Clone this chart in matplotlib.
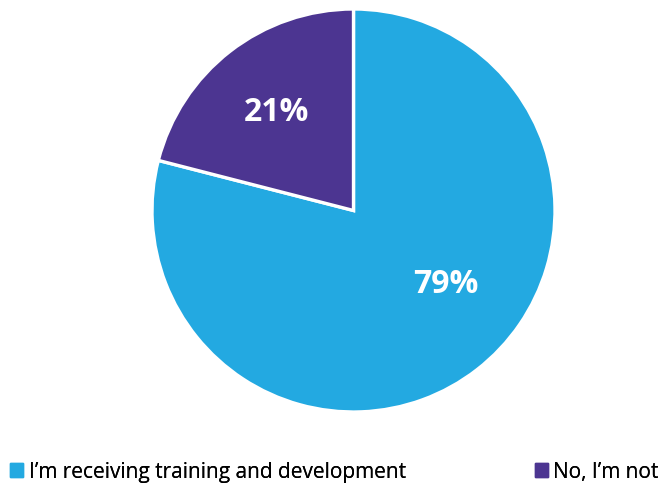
import matplotlib.pyplot as plt
import matplotlib.patches as mpatches

labels = ["I\u2019m receiving training and development", "No, I\u2019m not"]
values = [79, 21]
colors = ["#23A9E1", "#4C3591"]

plt.rcParams['font.family'] = ['Open Sans', 'DejaVu Sans']

fig = plt.figure(figsize=(6.67, 4.85), dpi=100)
# pie centre ~ (353, 211) px, radius ~201 px
cx, cy, r = 353.5, 211.5, 201.5
ax = fig.add_axes([(cx - r) / 667, (485 - cy - r) / 485, 2 * r / 667, 2 * r / 485])

wedges, texts, autotexts = ax.pie(values, colors=colors, startangle=90, counterclock=False,
                                  autopct='%d%%', pctdistance=0.62,
                                  wedgeprops=dict(edgecolor='white', linewidth=2.4))
ax.set_xlim(-1, 1)
ax.set_ylim(-1, 1)
ax.set_aspect('equal')
ax.axis('off')

for t in autotexts:
    t.set_color('white')
    t.set_fontsize(23)
    t.set_fontweight('bold')
# the big slice's label sits off the wedge centre
autotexts[0].set_position((0.46, -0.36))

# two separate legend entries, left and right
x_anchor = [0.0, 0.787]
for h, xa in zip([mpatches.Patch(color=c, label=l) for c, l in zip(colors, labels)], x_anchor):
    lg = fig.legend(handles=[h], loc='lower left', bbox_to_anchor=(xa, -0.018),
                    frameon=False, fontsize=15, handlelength=0.62, handleheight=0.62,
                    handletextpad=0.25, borderaxespad=0.0, borderpad=0.5)
    fig.add_artist(lg)

fig.savefig('out.png', dpi=100)
